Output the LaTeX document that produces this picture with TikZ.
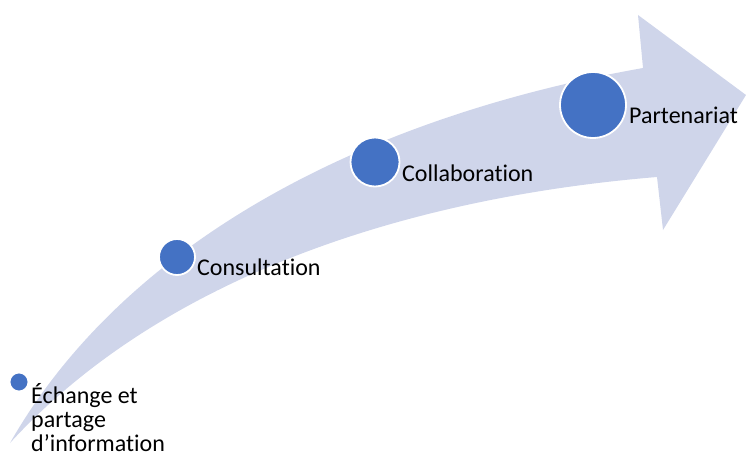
\documentclass[tikz,border=0pt]{standalone}
\usepackage{fontspec}
\setmainfont{Carlito}[Ligatures=NoCommon]
\definecolor{fleche}{HTML}{CFD5EA}
\definecolor{bleu}{HTML}{4472C4}

\begin{document}
\begin{tikzpicture}[x=1pt,y=-1pt,
  point/.style={circle,fill=bleu,draw=white,line width=1.8pt,inner sep=0pt},
  etiquette/.style={anchor=base west,inner sep=0pt,align=left,
    font=\fontsize{24}{24}\selectfont}]

\useasboundingbox (0,0) rectangle (746,457);

%la grande flèche courbe
\fill[fleche] (10,443) .. controls (120,250) and (350,120) .. (643,68)
  -- (638,15) -- (746,95) -- (663,230) -- (657,177)
  .. controls (380,200) and (150,290) .. (10,443) -- cycle;

%les points, du plus petit au plus grand
\node[point,minimum size=19pt] (echange) at (19,382) {};
\node[point,minimum size=36pt] (consult) at (177,257) {};
\node[point,minimum size=49pt] (collab) at (375,162) {};
\node[point,minimum size=66pt] (partena) at (593,105) {};

%les textes (base = derniere ligne)
\node[etiquette] (techange) at (31,451) {Échange et\\partage\\d’information};
\node[etiquette] (tconsult) at (197,275) {Consultation};
\node[etiquette] (tcollab) at (402,182) {Collaboration};
\node[etiquette] (tpartena) at (629,124) {Partenariat};

\end{tikzpicture}
\end{document}
